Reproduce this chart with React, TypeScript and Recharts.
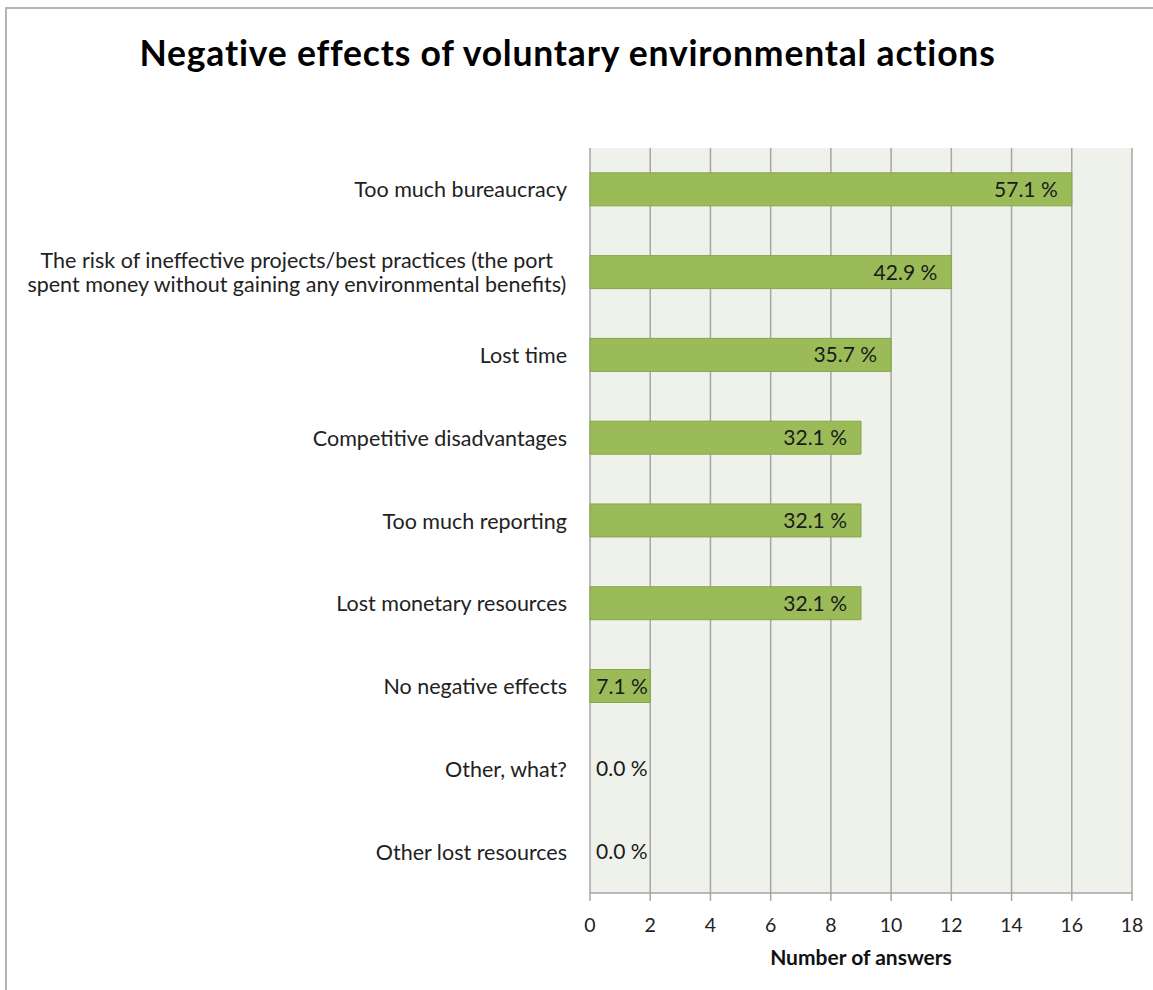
import React from 'react';
import { BarChart, Bar, XAxis, YAxis, CartesianGrid, LabelList, Rectangle } from 'recharts';

// Survey responses: negative effects of voluntary environmental actions
const categories: string[][] = [
  ['Too much bureaucracy'],
  ['The risk of ineffective projects/best practices (the port', 'spent money without gaining any environmental benefits)'],
  ['Lost time'],
  ['Competitive disadvantages'],
  ['Too much reporting'],
  ['Lost monetary resources'],
  ['No negative effects'],
  ['Other, what?'],
  ['Other lost resources'],
];
const answers: number[] = [16, 12, 10, 9, 9, 9, 2, 0, 0];
const shares: string[] = ['57.1 %', '42.9 %', '35.7 %', '32.1 %', '32.1 %', '32.1 %', '7.1 %', '0.0 %', '0.0 %'];
const xTicks: number[] = [0, 2, 4, 6, 8, 10, 12, 14, 16, 18];

const data = categories.map((lines, i) => ({
  key: lines.join(' '),
  lines,
  answers: answers[i],
  share: shares[i],
}));

const FONT = 'Lato, "Open Sans", sans-serif';
const CAT_SIZE = 21.5;

// width of a text run, used to centre wrapped category labels within their block
const measure = (() => {
  let ctx: CanvasRenderingContext2D | null = null;
  return (s: string, size: number) => {
    if (!ctx && typeof document !== 'undefined') ctx = document.createElement('canvas').getContext('2d');
    if (!ctx) return s.length * size * 0.5;
    ctx.font = `${size}px Lato`;
    return ctx.measureText(s).width;
  };
})();

const CategoryTick = (props: any) => {
  const { x, y, payload, index } = props;
  const lines: string[] = data[index]?.lines ?? [String(payload.value)];
  const lh = 24;
  const start = -((lines.length - 1) * lh) / 2;
  if (lines.length === 1) {
    return (
      <text x={x} y={y + 8} textAnchor="end" fill="#222" fontSize={CAT_SIZE} fontFamily={FONT}>
        {lines[0]}
      </text>
    );
  }
  const blockW = Math.max(...lines.map((l) => measure(l, CAT_SIZE)));
  const cx = x - blockW / 2;
  return (
    <text x={cx} y={y + 8} textAnchor="middle" fill="#222" fontSize={CAT_SIZE} fontFamily={FONT}>
      {lines.map((l, i) => (
        <tspan key={i} x={cx} dy={i === 0 ? start : lh}>
          {l}
        </tspan>
      ))}
    </text>
  );
};

const ShareLabel = (props: any) => {
  const { x, y, width, height, index } = props;
  const text = data[index].share;
  const zero = data[index].answers === 0;
  const narrow = width < 80;
  let tx = x + width - 14;
  let anchor: 'start' | 'middle' | 'end' = 'end';
  if (zero) {
    tx = x + 6;
    anchor = 'start';
  } else if (narrow) {
    tx = x + width / 2 + 2;
    anchor = 'middle';
  }
  return (
    <text x={tx} y={y + height / 2 + 7.5} textAnchor={anchor} fill="#1a1a1a" fontSize={21} fontFamily={FONT}>
      {text}
    </text>
  );
};

const BarShape = (props: any) => {
  if (!props.payload || props.payload.answers === 0) return <g />;
  return <Rectangle {...props} />;
};

export default function App() {
  return (
    <div style={{ position: 'absolute', left: 0, top: 0, width: 1153, height: 990, background: '#fff' }}>
      <div
        style={{
          position: 'absolute',
          left: 5,
          top: 7,
          width: 1148,
          height: 983,
          borderTop: '2px solid #B4B4B4',
          borderLeft: '2px solid #B4B4B4',
          boxSizing: 'border-box',
        }}
      />
      <div
        style={{
          position: 'absolute',
          left: 0,
          width: 1135,
          top: 35,
          textAlign: 'center',
          fontFamily: FONT,
          fontWeight: 700,
          fontSize: 35.5,
          lineHeight: '35.5px',
          letterSpacing: 0.8,
          color: '#000',
          whiteSpace: 'nowrap',
        }}
      >
        Negative effects of voluntary environmental actions
      </div>
      <div style={{ position: 'absolute', left: 0, top: 0 }}>
        <BarChart
          width={1153}
          height={990}
          data={data}
          layout="vertical"
          margin={{ top: 148, right: 21, bottom: 0, left: 0 }}
          barCategoryGap="30%"
        >
          <CartesianGrid horizontal={false} stroke="#A6A6A6" fill="#EEF2EA" strokeWidth={1.5} />
          <XAxis
            type="number"
            domain={[0, 18]}
            ticks={xTicks}
            interval={0}
            height={97}
            axisLine={{ stroke: '#A6A6A6', strokeWidth: 1.5 }}
            tickLine={{ stroke: '#A6A6A6', strokeWidth: 1.5 }}
            tickSize={8}
            tickMargin={17}
            tick={{ fill: '#222', fontSize: 19.5, fontFamily: FONT }}
            label={{
              value: 'Number of answers',
              position: 'insideBottom',
              offset: 25,
              fill: '#111',
              fontSize: 21,
              fontWeight: 700,
              fontFamily: FONT,
            }}
          />
          <YAxis
            type="category"
            dataKey="key"
            width={590}
            axisLine={false}
            tickLine={false}
            tickMargin={17}
            interval={0}
            tick={<CategoryTick />}
          />
          <Bar
            dataKey="answers"
            fill="#9BBB59"
            stroke="#86A64A"
            strokeWidth={1}
            minPointSize={0.5}
            shape={<BarShape />}
            isAnimationActive={false}
          >
            <LabelList dataKey="share" content={<ShareLabel />} />
          </Bar>
        </BarChart>
      </div>
    </div>
  );
}
